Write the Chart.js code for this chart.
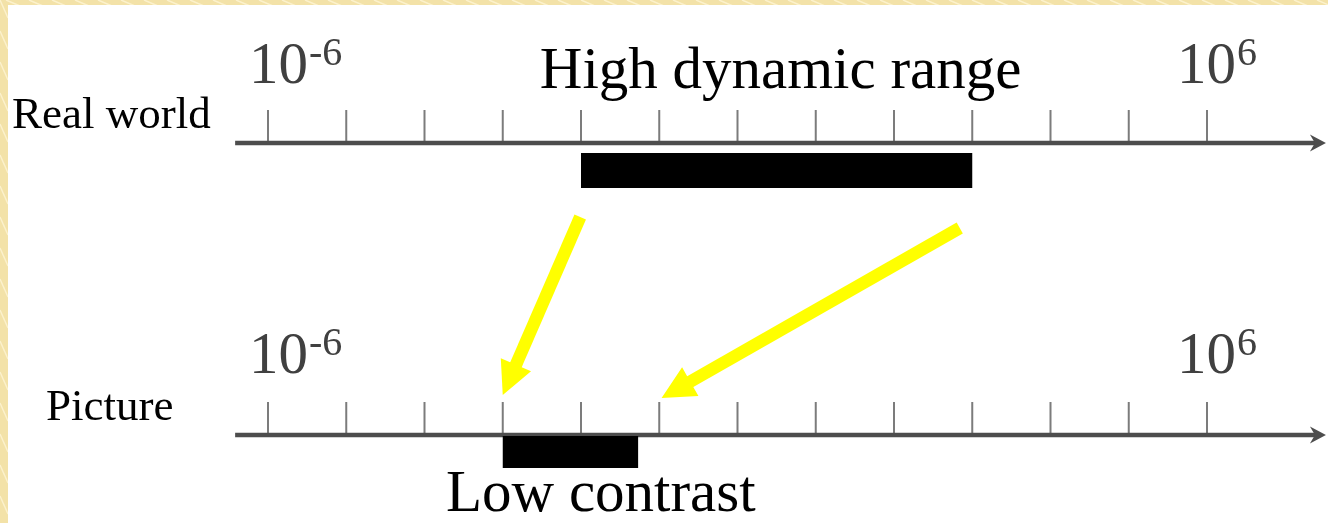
<!DOCTYPE html>
<html>
<head>
<meta charset="utf-8">
<script src="https://cdn.jsdelivr.net/npm/chart.js@4.4.1/dist/chart.umd.min.js"></script>
<style>
  html,body{margin:0;padding:0;background:#fff;overflow:hidden;}
  #wrap{width:1328px;height:523px;}
</style>
</head>
<body>
<div id="wrap"><canvas id="hdr" width="1328" height="523"></canvas></div>
<script>
// ---- data (log10 units) ----
const decades = [-6,-5,-4,-3,-2,-1,0,1,2,3,4,5,6];   // tick marks on both scales
const endLabels = [-6, 6];                             // labelled decades
const axisSpan = [-6.42, 7.52];                        // where each scale line starts / ends
const realWorldRange = [-2, 3];                        // "High dynamic range"
const pictureRange = [-3, -1.27];                      // "Low contrast"
const mapFrom = [-2.01, 2.84];                         // yellow arrows, start on real world
const mapTo = [-3.0, -0.97];                           // yellow arrows, end on picture

// ---- layout (pixels, y grows downward) ----
const PX_PER_DEC = 78.25, X_FIRST = 268;
const X_MIN = -6 - X_FIRST / PX_PER_DEC, X_MAX = X_MIN + 1328 / PX_PER_DEC;
const ROWS = {
  real: { axis:143, tickTop:110, bar:170.5, barH:35, label:83,  arrowY:[217,228] },
  pic:  { axis:435, tickTop:402, bar:452,   barH:32, label:372.5, arrowY:[395,398] }
};
const SERIF = '"Liberation Serif","Times New Roman",serif';

function tickData(row){
  const out = [];
  decades.forEach(e => { out.push({x:e,y:row.tickTop},{x:e,y:row.axis},{x:e,y:null}); });
  return out;
}
function lineDs(data, color, width, extra){
  return Object.assign({ data, borderColor:color, borderWidth:width, showLine:true,
    pointRadius:0, pointHoverRadius:0, spanGaps:false, borderCapStyle:'butt', fill:false }, extra||{});
}

const datasets = [];
// yellow mapping arrows (on top)
mapFrom.forEach((f,i) => {
  datasets.push(lineDs([{x:f,y:ROWS.real.arrowY[i]},{x:mapTo[i],y:ROWS.pic.arrowY[i]}],
    '#ffff00', 12.5, { order:0, head:{len:33, half:16.5, notch:0} }));
});
// range bars
datasets.push(lineDs(realWorldRange.map(v => ({x:v,y:ROWS.real.bar})), '#000', ROWS.real.barH, {order:1}));
datasets.push(lineDs(pictureRange.map(v => ({x:v,y:ROWS.pic.bar})), '#000', ROWS.pic.barH, {order:1}));
// scale lines with arrowheads
Object.values(ROWS).forEach(row => {
  datasets.push(lineDs(axisSpan.map(v => ({x:v,y:row.axis})), '#4d4d4d', 4.5,
    { order:2, head:{len:16, half:8.5, notch:5} }));
  datasets.push(lineDs(tickData(row), '#7c7c7c', 2, {order:3}));
});

// background: parchment strip on left / top, white page
const pagePlugin = {
  id:'page',
  beforeDraw(chart){
    const ctx = chart.ctx, W = chart.width, H = chart.height;
    ctx.save();
    ctx.fillStyle = '#f3e2a8';
    ctx.fillRect(0,0,W,H);
    ctx.strokeStyle = 'rgba(255,248,220,0.7)';
    ctx.lineWidth = 1.5;
    for(let k=-40;k<W+40;k+=23){ ctx.beginPath(); ctx.moveTo(k,0); ctx.lineTo(k+14,6); ctx.stroke(); }
    for(let k=0;k<H;k+=31){ ctx.beginPath(); ctx.moveTo(0,k); ctx.lineTo(8,k+18); ctx.stroke(); }
    ctx.fillStyle = '#ffffff';
    ctx.fillRect(8,5,W-8,H-5);
    ctx.restore();
  }
};

// arrow shafts + heads drawn from the dataset's own points
const arrowPlugin = {
  id:'arrows',
  beforeDatasetDraw(chart, args){
    const ds = chart.data.datasets[args.index];
    if(!ds.head) return;
    const p = args.meta.data, a = p[0], b = p[p.length-1], h = ds.head;
    const ang = Math.atan2(b.y-a.y, b.x-a.x), ux = Math.cos(ang), uy = Math.sin(ang);
    const bx = b.x - ux*h.len, by = b.y - uy*h.len;
    const nx = b.x - ux*(h.len - h.notch), ny = b.y - uy*(h.len - h.notch);
    const ctx = chart.ctx;
    ctx.save();
    ctx.strokeStyle = ds.borderColor; ctx.lineWidth = ds.borderWidth; ctx.lineCap = 'butt';
    ctx.beginPath(); ctx.moveTo(a.x,a.y); ctx.lineTo(nx+ux, ny+uy); ctx.stroke();
    ctx.fillStyle = ds.borderColor;
    ctx.beginPath();
    ctx.moveTo(b.x,b.y);
    ctx.lineTo(bx - uy*h.half, by + ux*h.half);
    ctx.lineTo(nx, ny);
    ctx.lineTo(bx + uy*h.half, by - ux*h.half);
    ctx.closePath(); ctx.fill();
    ctx.restore();
    return false;
  }
};

// texts: decade labels with superscripts, row names, captions
const textPlugin = {
  id:'texts',
  afterDatasetsDraw(chart){
    const ctx = chart.ctx, xs = chart.scales.x;
    ctx.save();
    ctx.textBaseline = 'alphabetic'; ctx.textAlign = 'left';
    Object.values(ROWS).forEach(row => {
      endLabels.forEach(e => {
        const x0 = xs.getPixelForValue(e) + (e < 0 ? -19 : -30);
        ctx.fillStyle = '#404040';
        ctx.font = '59px ' + SERIF;
        ctx.fillText('10', x0, row.label);
        const w = ctx.measureText('10').width;
        ctx.font = '40px ' + SERIF;
        ctx.fillText(String(e), x0 + w + 1, row.label - 18);
      });
    });
    ctx.fillStyle = '#000';
    ctx.font = '45px ' + SERIF;
    ctx.fillText('Real world', 12, 128);
    ctx.fillText('Picture', 46, 420);
    ctx.font = '59px ' + SERIF;
    ctx.textAlign = 'center';
    const mid = xs.getPixelForValue((realWorldRange[0] + realWorldRange[1]) / 2);
    ctx.fillText('High dynamic range', mid + 4, 88);
    ctx.textAlign = 'left';
    ctx.fillText('Low contrast', 446, 511);
    ctx.restore();
  }
};

new Chart(document.getElementById('hdr'), {
  type:'scatter',
  data:{ datasets },
  options:{
    responsive:false, animation:false, devicePixelRatio:1,
    layout:{ padding:0 },
    plugins:{ legend:{display:false}, tooltip:{enabled:false} },
    events:[],
    scales:{
      x:{ type:'linear', min:X_MIN, max:X_MAX, display:false },
      y:{ type:'linear', min:0, max:523, reverse:true, display:false }
    }
  },
  plugins:[pagePlugin, arrowPlugin, textPlugin]
});
</script>
</body>
</html>
